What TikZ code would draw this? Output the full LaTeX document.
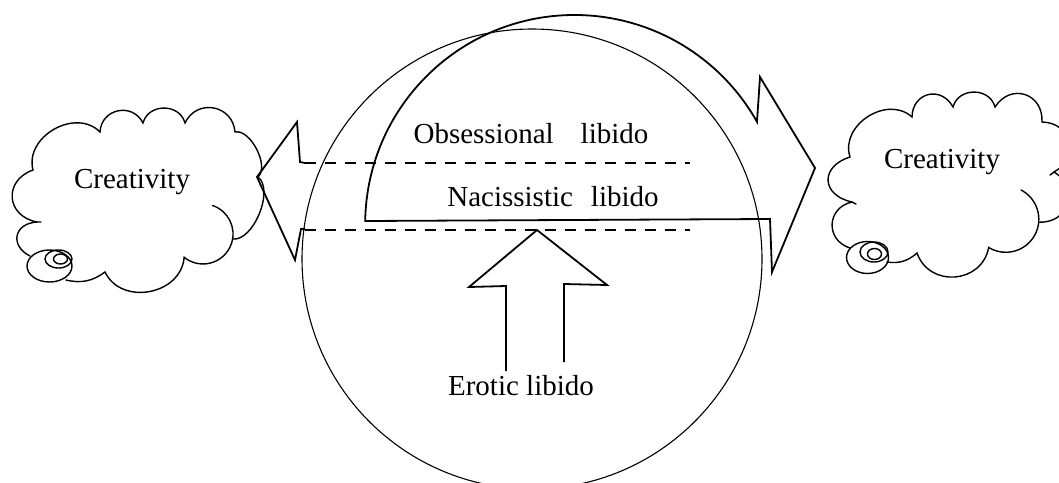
\documentclass[tikz,border=0pt]{standalone}
\usepackage{fontspec}
\setmainfont{Liberation Serif}
\begin{document}
\begin{tikzpicture}[x=1pt,y=-1pt,
  lbl/.style={font=\fontsize{29}{32}\selectfont, inner sep=0pt, anchor=base},
  shapeline/.style={line width=1.8pt, line join=miter},
  cloudline/.style={line width=1.4pt, line cap=round},
  thincircle/.style={line width=1.1pt},
  dashline/.style={line width=1.5pt, dash pattern=on 11pt off 9pt},
  bmp/.style={bend left=75, looseness=#1}]
\useasboundingbox (0,0) rectangle (1059,482);
\clip (0,0) rectangle (1059,482);

% big circle
\coordinate (C) at (532,259);
\draw[thincircle] (C) circle[radius=230];

% large D-shaped arrow (narcissistic / obsessional) pointing right
\coordinate (Dstart) at (365.2,221);
\coordinate (Rbarb) at (760,77);
\coordinate (Rtip) at (815,168);
\coordinate (Rlow) at (772,272);
\coordinate (Rnotch) at (770,219);
\draw[shapeline] (Dstart) arc[start angle=180.9, end angle=330.7, radius=209.3]
  -- (Rbarb) -- (Rtip) -- (Rlow) -- (Rnotch) -- cycle;

% left arrow
\coordinate (Lu1) at (305,163);
\coordinate (Lun) at (300,162);
\coordinate (Lub) at (297,122);
\coordinate (Ltip) at (257,177);
\coordinate (Llb) at (295,260);
\coordinate (Lln) at (301,229);
\coordinate (Ll1) at (305,229);
\coordinate (Uend) at (690,163);
\coordinate (Lend) at (690,230);
\draw[shapeline] (Lu1) -- (Lun) -- (Lub) -- (Ltip) -- (Llb) -- (Lln) -- (Ll1);
\draw[dashline] (Lu1) -- (Uend);
\draw[dashline] (305,230) -- (Lend);

% erotic arrow
\coordinate (Ea) at (506,371);
\coordinate (Eb) at (506,286);
\coordinate (Ec) at (469,287);
\coordinate (Etip) at (537,230);
\coordinate (Ed) at (607,285);
\coordinate (Ee) at (564,284);
\coordinate (Ef) at (564,362);
\draw[shapeline] (Ea) -- (Eb) -- (Ec) -- (Etip) -- (Ed) -- (Ee) -- (Ef);

% left cloud
\draw[cloudline] (37,222) to[bmp=1.55] (33,170) to[bmp=1.15] (100,132)
  to[bmp=1.37] (143,123) to[bmp=1.26] (185,123) to[bmp=1.38] (235,132)
  to[bmp=0.8] (258,177) to[bmp=0.8] (232.5,239);
\draw[cloudline] (212.5,205.5) arc[start angle=-71.6, end angle=129, radius=30]
  to[bmp=1.2] (105,272) to[bend left=25] (66,280);
\draw[cloudline] (30,256) to[bmp=1.7] (37,222) -- (41,222);
\draw[cloudline] (49.5,266) ellipse[x radius=22.5, y radius=16];
\draw[cloudline] (58.5,259) ellipse[x radius=13.5, y radius=9];
\draw[cloudline] (60.5,259) ellipse[x radius=7, y radius=5];

% right cloud
\draw[cloudline] (852,202) to[bmp=1.8] (850,157) to[bmp=1.16] (912,117)
  to[bmp=1.5] (953,107) to[bmp=1.26] (995,107) to[bmp=1.5] (1042,122)
  to[bmp=1.5] (1054,172) to[bmp=1.5] (1038.8,222.2);
\draw[cloudline] (1054,172) -- (1050,175);
\draw[cloudline] (1021,190) arc[start angle=-62.6, end angle=121.3, radius=33]
  to[bmp=1.32] (917,253) to[bend left=25] (887,262);
\draw[cloudline] (850,248) to[bmp=1.45] (852,202) -- (856,204);
\draw[cloudline] (867.5,257.5) ellipse[x radius=21, y radius=16];
\draw[cloudline] (874,252) ellipse[x radius=14, y radius=10];
\draw[cloudline] (874.5,254) ellipse[x radius=7, y radius=5.5];

% labels
\node[lbl] (crL) at (132,188) {Creativity};
\node[lbl] (crR) at (942,168) {Creativity};
\node[lbl] (obs) at (531,143) {Obsessional\hspace{27pt}libido};
\node[lbl] (nac) at (553,206) {Nacissistic\hspace{18pt}libido};
\node[lbl] (ero) at (521,395) {Erotic libido};
\end{tikzpicture}
\end{document}
